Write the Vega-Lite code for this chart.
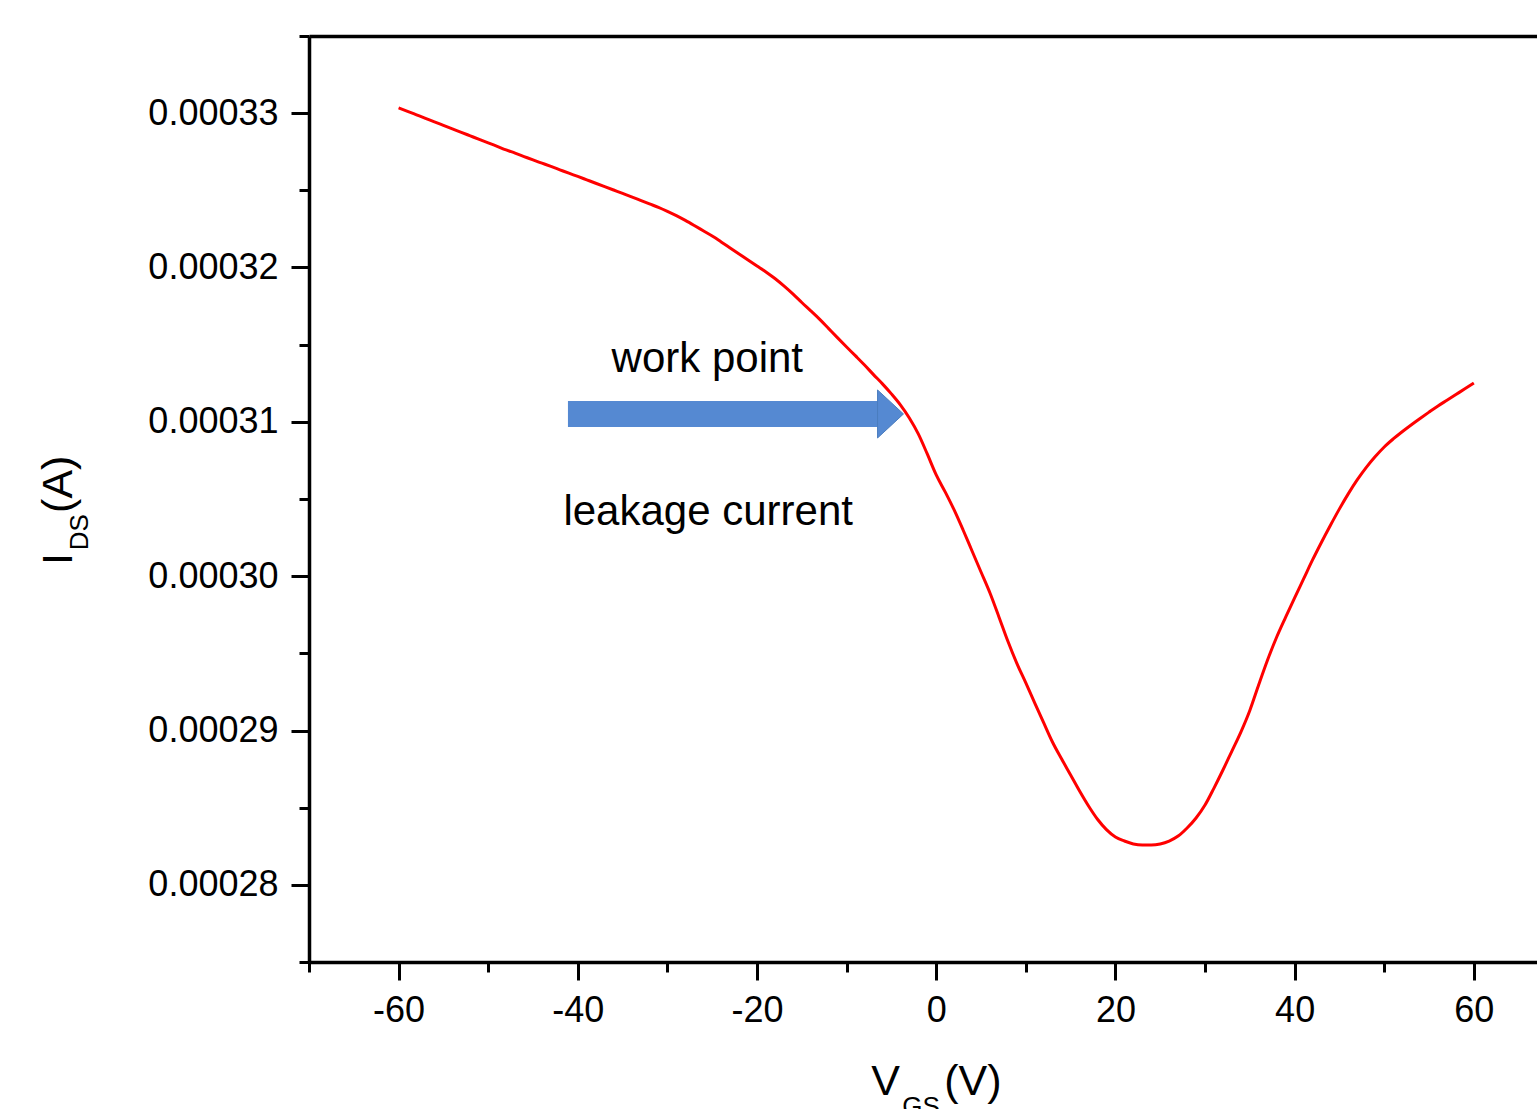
{
  "$schema": "https://vega.github.io/schema/vega-lite/v6.json",
  "autosize": {"type": "none"},
  "padding": {"left": 309, "top": 36, "right": 0, "bottom": 147},
  "width": 1228,
  "height": 926,
  "background": "white",
  "config": {
    "view": {"stroke": null},
    "font": "Liberation Sans",
    "axis": {"grid": false, "domainColor": "black", "tickColor": "black", "labelColor": "black", "labelFont": "Liberation Sans", "labelFontSize": 36, "titleFont": "Liberation Sans"}
  },
  "datasets": {
    "curve": [
      {"vgs": -60, "ids": 0.00033034}, {"vgs": -59, "ids": 0.00033012}, {"vgs": -58, "ids": 0.00032989}, {"vgs": -57, "ids": 0.00032966},
      {"vgs": -56, "ids": 0.00032944}, {"vgs": -55, "ids": 0.00032921}, {"vgs": -54, "ids": 0.00032898}, {"vgs": -53, "ids": 0.00032876},
      {"vgs": -52, "ids": 0.00032853}, {"vgs": -51, "ids": 0.0003283}, {"vgs": -50, "ids": 0.00032808}, {"vgs": -49, "ids": 0.00032785},
      {"vgs": -48, "ids": 0.00032762}, {"vgs": -47, "ids": 0.00032741}, {"vgs": -46, "ids": 0.00032719}, {"vgs": -45, "ids": 0.00032697},
      {"vgs": -44, "ids": 0.00032676}, {"vgs": -43, "ids": 0.00032655}, {"vgs": -42, "ids": 0.00032633}, {"vgs": -41, "ids": 0.00032611},
      {"vgs": -40, "ids": 0.0003259}, {"vgs": -39, "ids": 0.00032568}, {"vgs": -38, "ids": 0.00032546}, {"vgs": -37, "ids": 0.00032524},
      {"vgs": -36, "ids": 0.00032502}, {"vgs": -35, "ids": 0.0003248}, {"vgs": -34, "ids": 0.00032458}, {"vgs": -33, "ids": 0.00032435},
      {"vgs": -32, "ids": 0.00032412}, {"vgs": -31, "ids": 0.0003239}, {"vgs": -30, "ids": 0.00032364}, {"vgs": -29, "ids": 0.00032336},
      {"vgs": -28, "ids": 0.00032305}, {"vgs": -27, "ids": 0.00032272}, {"vgs": -26, "ids": 0.00032238}, {"vgs": -25, "ids": 0.00032204},
      {"vgs": -24, "ids": 0.00032166}, {"vgs": -23, "ids": 0.00032127}, {"vgs": -22, "ids": 0.00032088}, {"vgs": -21, "ids": 0.00032049},
      {"vgs": -20, "ids": 0.0003201}, {"vgs": -19, "ids": 0.00031971}, {"vgs": -18, "ids": 0.00031929}, {"vgs": -17, "ids": 0.00031881},
      {"vgs": -16, "ids": 0.00031829}, {"vgs": -15, "ids": 0.00031773}, {"vgs": -14, "ids": 0.00031719}, {"vgs": -13, "ids": 0.00031664},
      {"vgs": -12, "ids": 0.00031604}, {"vgs": -11, "ids": 0.00031544}, {"vgs": -10, "ids": 0.00031485}, {"vgs": -9, "ids": 0.00031427},
      {"vgs": -8, "ids": 0.00031368}, {"vgs": -7, "ids": 0.00031306}, {"vgs": -6, "ids": 0.00031246}, {"vgs": -5, "ids": 0.00031181},
      {"vgs": -4, "ids": 0.0003111}, {"vgs": -3, "ids": 0.00031025}, {"vgs": -2, "ids": 0.00030922}, {"vgs": -1, "ids": 0.00030792},
      {"vgs": 0, "ids": 0.00030656}, {"vgs": 1, "ids": 0.00030546}, {"vgs": 2, "ids": 0.00030429}, {"vgs": 3, "ids": 0.00030299},
      {"vgs": 4, "ids": 0.00030163}, {"vgs": 5, "ids": 0.00030027}, {"vgs": 6, "ids": 0.00029891}, {"vgs": 7, "ids": 0.00029736},
      {"vgs": 8, "ids": 0.00029578}, {"vgs": 9, "ids": 0.00029435}, {"vgs": 10, "ids": 0.00029308}, {"vgs": 11, "ids": 0.00029178},
      {"vgs": 12, "ids": 0.00029049}, {"vgs": 13, "ids": 0.00028922}, {"vgs": 14, "ids": 0.00028815}, {"vgs": 15, "ids": 0.00028712},
      {"vgs": 16, "ids": 0.00028608}, {"vgs": 17, "ids": 0.00028511}, {"vgs": 18, "ids": 0.00028425}, {"vgs": 19, "ids": 0.00028358},
      {"vgs": 20, "ids": 0.0002831}, {"vgs": 21, "ids": 0.00028284}, {"vgs": 22, "ids": 0.00028265}, {"vgs": 23, "ids": 0.00028258},
      {"vgs": 24, "ids": 0.00028258}, {"vgs": 25, "ids": 0.00028265}, {"vgs": 26, "ids": 0.00028284}, {"vgs": 27, "ids": 0.00028316},
      {"vgs": 28, "ids": 0.00028368}, {"vgs": 29, "ids": 0.00028433}, {"vgs": 30, "ids": 0.00028517}, {"vgs": 31, "ids": 0.00028627},
      {"vgs": 32, "ids": 0.00028744}, {"vgs": 33, "ids": 0.00028867}, {"vgs": 34, "ids": 0.0002899}, {"vgs": 35, "ids": 0.0002913},
      {"vgs": 36, "ids": 0.00029298}, {"vgs": 37, "ids": 0.0002946}, {"vgs": 38, "ids": 0.00029606}, {"vgs": 39, "ids": 0.00029735},
      {"vgs": 40, "ids": 0.0002986}, {"vgs": 41, "ids": 0.00029982}, {"vgs": 42, "ids": 0.00030105}, {"vgs": 43, "ids": 0.0003022},
      {"vgs": 44, "ids": 0.0003033}, {"vgs": 45, "ids": 0.00030436}, {"vgs": 46, "ids": 0.00030535}, {"vgs": 47, "ids": 0.00030625},
      {"vgs": 48, "ids": 0.00030705}, {"vgs": 49, "ids": 0.00030775}, {"vgs": 50, "ids": 0.00030837}, {"vgs": 51, "ids": 0.00030889},
      {"vgs": 52, "ids": 0.00030936}, {"vgs": 53, "ids": 0.0003098}, {"vgs": 54, "ids": 0.00031022}, {"vgs": 55, "ids": 0.00031063},
      {"vgs": 56, "ids": 0.00031103}, {"vgs": 57, "ids": 0.0003114}, {"vgs": 58, "ids": 0.00031177}, {"vgs": 59, "ids": 0.00031214},
      {"vgs": 60, "ids": 0.00031252}
    ],
    "arrow": [{"start": -41.1, "end": -6.5, "ids": 0.00031051}],
    "head": [{"vgs": -5.1, "ids": 0.00031051}],
    "notes": [
      {"vgs": -25.55, "ids": 0.00031323, "label": "work point"},
      {"vgs": -25.45, "ids": 0.00030332, "label": "leakage current"}
    ],
    "titleMain": [
      {"vgs": -7.25, "ids": 0.00026638, "label": "V"},
      {"vgs": 0.9, "ids": 0.00026638, "label": "(V)"}
    ],
    "titleSub": [
      {"vgs": -3.8, "ids": 0.00026506, "label": "GS"}
    ],
    "yTitleMain": [
      {"vgs": -96.4, "ids": 0.00030073, "label": "I"},
      {"vgs": -96.4, "ids": 0.0003041, "label": "(A)"}
    ],
    "yTitleSub": [
      {"vgs": -94.7, "ids": 0.00030168, "label": "DS"}
    ]
  },
  "layer": [
    {
      "data": {"name": "curve"},
      "mark": {"type": "line", "color": "#ff0000", "strokeWidth": 3, "interpolate": "monotone"},
      "encoding": {
        "x": {"field": "vgs", "type": "quantitative",
              "scale": {"domain": [-70, 67.05], "nice": false, "zero": false},
              "axis": {"orient": "bottom", "values": [-60, -40, -20, 0, 20, 40, 60], "labelExpr": "'' + datum.value", "tickSize": 18, "tickWidth": 3, "domainWidth": 3.5, "labelPadding": 13, "labelFlush": false, "labelOverlap": false, "title": null}},
        "y": {"field": "ids", "type": "quantitative",
              "scale": {"domain": [0.000275, 0.000335], "nice": false, "zero": false},
              "axis": {"orient": "left", "values": [0.00028, 0.00029, 0.0003, 0.00031, 0.00032, 0.00033], "format": ".5f", "tickSize": 18, "tickWidth": 3, "domainWidth": 3.5, "labelPadding": 13, "labelFlush": false, "labelOverlap": false, "title": null}}
      }
    },
    {
      "data": {"name": "arrow"},
      "mark": {"type": "rule", "color": "#5589d2", "strokeWidth": 26, "strokeCap": "butt"},
      "encoding": {
        "x": {"field": "start", "type": "quantitative",
              "axis": {"orient": "bottom", "values": [-70, -50, -30, -10, 10, 30, 50], "tickSize": 10, "tickWidth": 3, "domain": false, "labels": false, "title": null}},
        "x2": {"field": "end"},
        "y": {"field": "ids", "type": "quantitative",
              "axis": {"orient": "left", "values": [0.000275, 0.000285, 0.000295, 0.000305, 0.000315, 0.000325, 0.000335], "tickSize": 10, "tickWidth": 3, "domain": false, "labels": false, "title": null}}
      }
    },
    {
      "data": {"name": "head"},
      "mark": {"type": "point", "shape": "M-0.54,-1L0.54,0L-0.54,1Z", "size": 2304, "filled": true, "opacity": 1, "color": "#5589d2", "stroke": "#4a7cbe", "strokeWidth": 1},
      "encoding": {
        "x": {"field": "vgs", "type": "quantitative",
              "axis": {"orient": "top", "ticks": false, "labels": false, "domain": true, "domainWidth": 3.5, "title": null}},
        "y": {"field": "ids", "type": "quantitative", "axis": null}
      }
    },
    {
      "data": {"name": "notes"},
      "mark": {"type": "text", "font": "Liberation Sans", "fontSize": 42, "align": "center", "baseline": "alphabetic", "color": "black"},
      "encoding": {
        "x": {"field": "vgs", "type": "quantitative", "axis": null},
        "y": {"field": "ids", "type": "quantitative", "axis": null},
        "text": {"field": "label"}
      }
    },
    {
      "data": {"name": "titleMain"},
      "mark": {"type": "text", "font": "Liberation Sans", "fontSize": 43, "align": "left", "baseline": "alphabetic", "color": "black"},
      "encoding": {
        "x": {"field": "vgs", "type": "quantitative", "axis": null},
        "y": {"field": "ids", "type": "quantitative", "axis": null},
        "text": {"field": "label"}
      }
    },
    {
      "data": {"name": "titleSub"},
      "mark": {"type": "text", "font": "Liberation Sans", "fontSize": 26, "align": "left", "baseline": "alphabetic", "color": "black"},
      "encoding": {
        "x": {"field": "vgs", "type": "quantitative", "axis": null},
        "y": {"field": "ids", "type": "quantitative", "axis": null},
        "text": {"field": "label"}
      }
    },
    {
      "data": {"name": "yTitleMain"},
      "mark": {"type": "text", "font": "Liberation Sans", "fontSize": 43, "align": "left", "baseline": "alphabetic", "angle": 270, "color": "black"},
      "encoding": {
        "x": {"field": "vgs", "type": "quantitative", "axis": null},
        "y": {"field": "ids", "type": "quantitative", "axis": null},
        "text": {"field": "label"}
      }
    },
    {
      "data": {"name": "yTitleSub"},
      "mark": {"type": "text", "font": "Liberation Sans", "fontSize": 26, "align": "left", "baseline": "alphabetic", "angle": 270, "color": "black"},
      "encoding": {
        "x": {"field": "vgs", "type": "quantitative", "axis": null},
        "y": {"field": "ids", "type": "quantitative", "axis": null},
        "text": {"field": "label"}
      }
    }
  ],
  "resolve": {"axis": {"x": "independent", "y": "independent"}}
}
